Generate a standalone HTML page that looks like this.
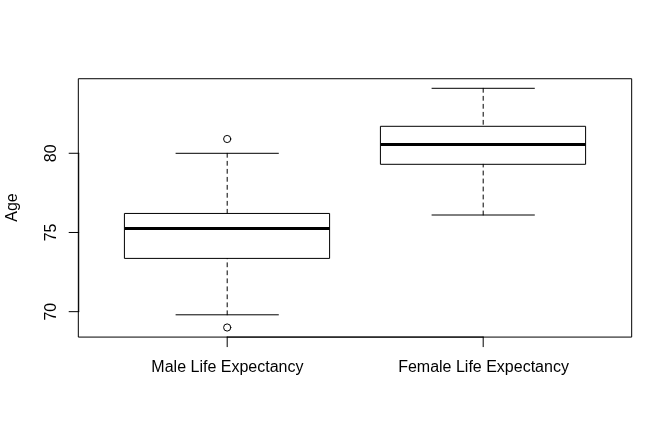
<!DOCTYPE html>
<html>
<head>
<meta charset="utf-8">
<style>
html,body{margin:0;padding:0;background:#fff;}
body{width:672px;height:435px;overflow:hidden;}
svg{display:block;position:absolute;left:0;top:0;will-change:transform;}
text{font-family:"Liberation Sans",sans-serif;font-size:16px;fill:#000;}
</style>
</head>
<body>
<svg width="672" height="435" viewBox="0 0 672 435">
<rect x="0" y="0" width="672" height="435" fill="#fff"/>
<g fill="none" stroke="#000" stroke-width="1" stroke-linecap="round" stroke-linejoin="round">
  <!-- box 1 -->
  <rect x="124.8" y="213.45" width="204.8" height="44.95"/>
  <line x1="124.8" y1="228.5" x2="329.6" y2="228.5" stroke-width="3" stroke-linecap="butt"/>
  <line x1="227.2" y1="153.3" x2="227.2" y2="213.45" stroke-dasharray="4,4"/>
  <line x1="227.2" y1="314.8" x2="227.2" y2="258.4" stroke-dasharray="4,4"/>
  <line x1="176" y1="153.3" x2="278.4" y2="153.3"/>
  <line x1="176" y1="314.8" x2="278.4" y2="314.8"/>
  <circle cx="227.2" cy="139" r="3.6"/>
  <circle cx="227.2" cy="327.5" r="3.6"/>
  <!-- box 2 -->
  <rect x="380.8" y="126.3" width="204.8" height="38"/>
  <line x1="380.8" y1="144.5" x2="585.6" y2="144.5" stroke-width="3" stroke-linecap="butt"/>
  <line x1="483.2" y1="88.3" x2="483.2" y2="126.3" stroke-dasharray="4,4"/>
  <line x1="483.2" y1="215" x2="483.2" y2="164.3" stroke-dasharray="4,4"/>
  <line x1="432" y1="88.3" x2="534.4" y2="88.3"/>
  <line x1="432" y1="215" x2="534.4" y2="215"/>
  <!-- axes -->
  <line x1="227.2" y1="337.08" x2="483.2" y2="337.08"/>
  <line x1="227.2" y1="337.08" x2="227.2" y2="346.68"/>
  <line x1="483.2" y1="337.08" x2="483.2" y2="346.68"/>
  <line x1="78.72" y1="311.67" x2="78.72" y2="153.27"/>
  <line x1="78.72" y1="311.67" x2="69.12" y2="311.67"/>
  <line x1="78.72" y1="232.47" x2="69.12" y2="232.47"/>
  <line x1="78.72" y1="153.27" x2="69.12" y2="153.27"/>
  <!-- frame -->
  <rect x="78.72" y="78.72" width="552.96" height="258.36"/>
</g>
<text x="227.4" y="372.2" text-anchor="middle">Male Life Expectancy</text>
<text x="483.5" y="372.2" text-anchor="middle">Female Life Expectancy</text>
<text transform="translate(55.8,311.67) rotate(-90)" text-anchor="middle">70</text>
<text transform="translate(55.8,232.47) rotate(-90)" text-anchor="middle">75</text>
<text transform="translate(55.8,153.27) rotate(-90)" text-anchor="middle">80</text>
<text transform="translate(17.2,207.5) rotate(-90)" text-anchor="middle">Age</text>
</svg>
</body>
</html>
